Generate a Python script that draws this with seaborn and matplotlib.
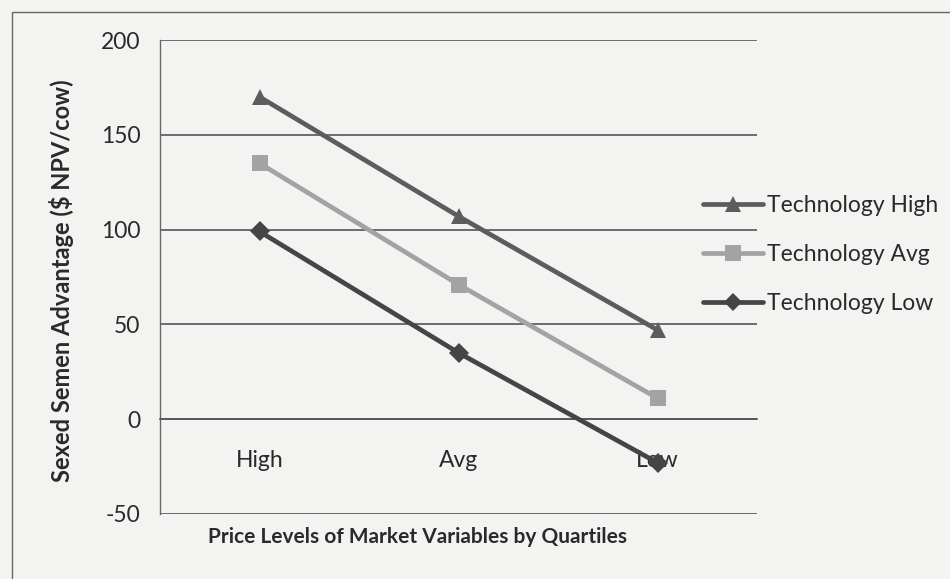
import matplotlib
matplotlib.use("Agg")
import matplotlib.pyplot as plt
import seaborn as sns
import pandas as pd
from matplotlib.patches import Rectangle

categories = ["High", "Avg", "Low"]
series_names = ["Technology High", "Technology Avg", "Technology Low"]
tech_high = [170, 107, 47]
tech_avg = [135, 71, 11]
tech_low = [99, 35, -23]
y_ticks = [-50, 0, 50, 100, 150, 200]

rows = []
for name, vals in zip(series_names, [tech_high, tech_avg, tech_low]):
    for c, v in zip(categories, vals):
        rows.append({"Price": c, "Value": v, "Series": name})
df = pd.DataFrame(rows)

sns.set_theme(style="white")
plt.rcParams["font.family"] = ["Lato", "DejaVu Sans"]

bg = "#f3f3f1"
fig = plt.figure(figsize=(9.5, 5.79), dpi=100, facecolor=bg)
ax = fig.add_axes([0.1684, 0.1123, 0.797 - 0.1684, 0.9309 - 0.1123])
ax.set_facecolor("none")

palette = {"Technology High": "#5c5c5c", "Technology Avg": "#a3a3a3", "Technology Low": "#454545"}
markers = {"Technology High": "^", "Technology Avg": "s", "Technology Low": "D"}
sns.lineplot(data=df, x="Price", y="Value", hue="Series", style="Series",
             palette=palette, markers=markers, dashes=False, linewidth=3.4,
             markersize=12, markeredgewidth=0, ax=ax, sort=False, legend=False, zorder=3)
for line in ax.get_lines():
    if line.get_marker() == "D":
        line.set_markersize(10)

ax.set_xlim(-0.5, 2.5)
ax.set_ylim(-50, 200)
ax.set_yticks(y_ticks)
ax.set_yticklabels([str(t) for t in y_ticks])
ax.yaxis.grid(True, color="#555555", linewidth=1.2)
ax.set_axisbelow(True)
for s in ["top", "right"]:
    ax.spines[s].set_visible(False)
ax.spines["bottom"].set_position(("data", 0))
ax.spines["bottom"].set_color("#555555")
ax.spines["bottom"].set_linewidth(1.2)
ax.spines["left"].set_color("#666666")
ax.spines["left"].set_linewidth(1.0)
ax.set_xticks([-0.5, 0.5, 1.5, 2.5], minor=False)
ax.set_xticklabels([])
ax.set_xticks([0, 1, 2], minor=True)
ax.set_xticklabels(categories, minor=True)
ax.tick_params(axis="x", which="major", direction="out", length=6, color="#555555", width=1.2)
ax.tick_params(axis="x", which="minor", length=0, pad=22, labelsize=16.5, labelcolor="#2a2a2a")
ax.tick_params(axis="y", direction="out", length=6, color="#555555", width=1.2,
               labelsize=16.5, labelcolor="#2a2a2a", pad=8)
ax.set_xlabel("")
ax.set_ylabel("")

fig.text(0.065, 1 - 281 / 579, "Sexed Semen Advantage ($ NPV/cow)", rotation=90, ha="center", va="center",
         fontsize=17, fontweight="bold", color="#2a2a2a")
fig.text(417 / 950, 0.072, "Price Levels of Market Variables by Quartiles", ha="center", va="center",
         fontsize=15, fontweight="bold", color="#2a2a2a")

handles = [plt.Line2D([], [], color=palette[n], marker=markers[n], linewidth=3.4,
                      markersize=11 if markers[n] != "D" else 9, markeredgewidth=0)
           for n in series_names]
leg = fig.legend(handles, series_names, loc="upper left", bbox_to_anchor=(703 / 950, 1 - 195 / 579),
                 frameon=False, fontsize=16.5, handlelength=2.6, handletextpad=0.2,
                 labelspacing=1.22, labelcolor="#2a2a2a", borderaxespad=0, borderpad=0)

fig.patches.append(Rectangle((12 / 950, -0.1), 1.2, 1 - 12 / 579 + 0.1, transform=fig.transFigure,
                             fill=False, edgecolor="#666666", linewidth=1.0))

fig.savefig("out.png", dpi=100, facecolor=bg)
